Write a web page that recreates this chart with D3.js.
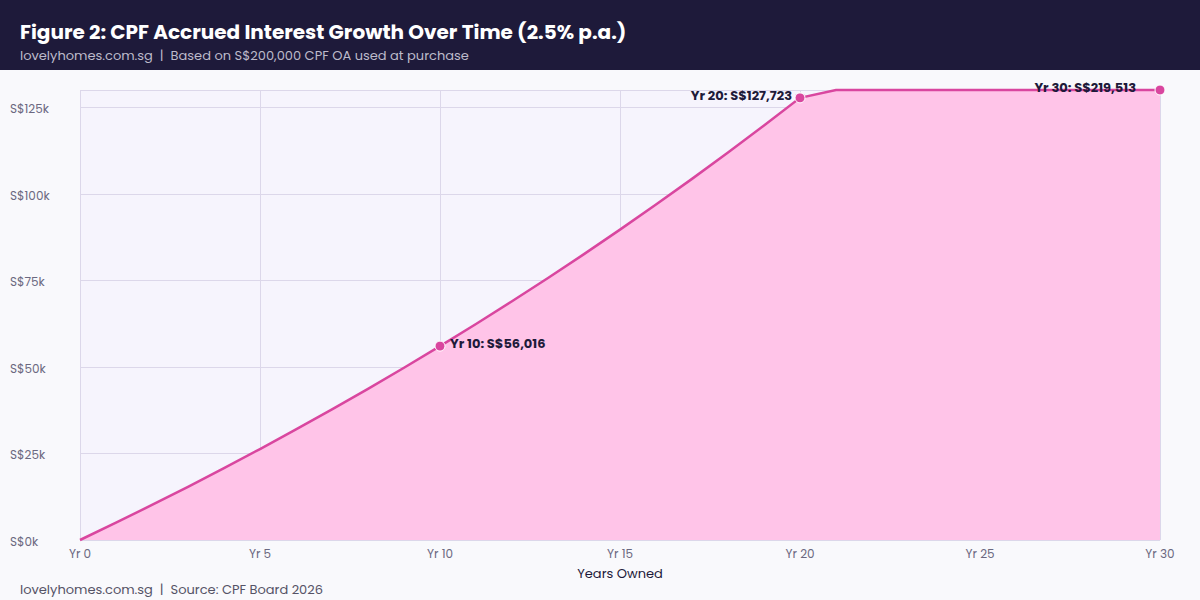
<!DOCTYPE html>
<html>
<head>
<meta charset="utf-8">
<script src="https://cdn.jsdelivr.net/npm/d3@7"></script>
<style>
  body { margin: 0; background: #f9f9fc; }
  svg { display: block; font-family: "Poppins", "Open Sans", sans-serif; }
  text { white-space: pre; }
</style>
</head>
<body>
<svg></svg>
<script>
// Canvas size
const width = 1200, height = 600;
const margin = { top: 90, right: 40, bottom: 60, left: 80 };

// Accrued interest (S$) on S$200,000 at 2.5% p.a., year 0 to 30
const years = d3.range(0, 31);
const interest = [
  0, 5000, 10125, 15378, 20763, 26282, 31939, 37737, 43681, 49773,
  56016, 62417, 68978, 75702, 82595, 89660, 96901, 104324, 111932, 119730,
  127723, 135916, 144314, 152922, 161745, 170789, 180059, 189560, 199299, 209281,
  219513
];
const yTicks = [0, 25000, 50000, 75000, 100000, 125000];
const xTicks = [0, 5, 10, 15, 20, 25, 30];
const callouts = [10, 20, 30];

const svg = d3.select("svg")
  .attr("width", width)
  .attr("height", height);

const x = d3.scaleLinear()
  .domain([0, 30])
  .range([margin.left, width - margin.right]);

const y = d3.scaleLinear()
  .domain([0, 130000])
  .range([height - margin.bottom, margin.top])
  .clamp(true);

const data = years.map((yr, i) => ({ yr, v: interest[i] }));

// Header band
svg.append("rect")
  .attr("width", width).attr("height", 70)
  .attr("fill", "#1e1a3a");

svg.append("text")
  .attr("x", 20).attr("y", 39)
  .attr("fill", "#ffffff")
  .attr("font-size", 20).attr("font-weight", 700)
  .text("Figure 2: CPF Accrued Interest Growth Over Time (2.5% p.a.)");

svg.append("text")
  .attr("x", 20).attr("y", 60)
  .attr("fill", "#bdbacb")
  .attr("font-size", 13)
  .text("lovelyhomes.com.sg  |  Based on S$200,000 CPF OA used at purchase");

// Plot background
svg.append("rect")
  .attr("x", x(0)).attr("y", margin.top)
  .attr("width", x(30) - x(0)).attr("height", y(0) - margin.top)
  .attr("fill", "#f6f4fd");

// Grid
const grid = svg.append("g").attr("stroke", "#dcd7ea").attr("stroke-width", 1);
grid.selectAll(".gy")
  .data(yTicks.concat([130000]))
  .join("line")
  .attr("x1", x(0)).attr("x2", x(30))
  .attr("y1", d => Math.round(y(d)) + 0.5).attr("y2", d => Math.round(y(d)) + 0.5);
grid.selectAll(".gx")
  .data(xTicks)
  .join("line")
  .attr("x1", d => Math.round(x(d)) + 0.5).attr("x2", d => Math.round(x(d)) + 0.5)
  .attr("y1", margin.top).attr("y2", y(0));

// Area and line
svg.append("path")
  .datum(data)
  .attr("fill", "#ffc4e8")
  .attr("d", d3.area().x(d => x(d.yr)).y0(y(0)).y1(d => y(d.v)));

svg.append("path")
  .datum(data)
  .attr("fill", "none")
  .attr("stroke", "#d9469f")
  .attr("stroke-width", 2.5)
  .attr("d", d3.line().x(d => x(d.yr)).y(d => y(d.v)));

// Axes labels
svg.append("g")
  .selectAll("text")
  .data(yTicks)
  .join("text")
  .attr("x", 10).attr("y", d => y(d) + 6)
  .attr("fill", "#6b6880").attr("font-size", 12)
  .text(d => `S$${d / 1000}k`);

svg.append("g")
  .selectAll("text")
  .data(xTicks)
  .join("text")
  .attr("x", d => x(d)).attr("y", y(0) + 18)
  .attr("text-anchor", "middle")
  .attr("fill", "#6b6880").attr("font-size", 12)
  .text(d => `Yr ${d}`);

svg.append("text")
  .attr("x", (x(0) + x(30)) / 2).attr("y", y(0) + 38)
  .attr("text-anchor", "middle")
  .attr("fill", "#1e1a3a").attr("font-size", 13)
  .text("Years Owned");

// Callout points
const pts = data.filter(d => callouts.includes(d.yr));
svg.append("g")
  .selectAll("circle")
  .data(pts)
  .join("circle")
  .attr("cx", d => x(d.yr)).attr("cy", d => y(d.v))
  .attr("r", 5)
  .attr("fill", "#d9469f")
  .attr("stroke", "#ffffff").attr("stroke-width", 1);

const labelDx = { 10: 10, 20: -8, 30: -24 };
svg.append("g")
  .selectAll("text")
  .data(pts)
  .join("text")
  .attr("x", d => x(d.yr) + labelDx[d.yr])
  .attr("y", d => y(d.v) + 2)
  .attr("text-anchor", d => d.yr === 10 ? "start" : "end")
  .attr("fill", "#1e1a3a").attr("font-size", 13).attr("font-weight", 700)
  .text(d => `Yr ${d.yr}: S$${d3.format(",")(d.v)}`);

// Footer
svg.append("text")
  .attr("x", 20).attr("y", 594)
  .attr("fill", "#555366").attr("font-size", 13)
  .text("lovelyhomes.com.sg  |  Source: CPF Board 2026");
</script>
</body>
</html>
